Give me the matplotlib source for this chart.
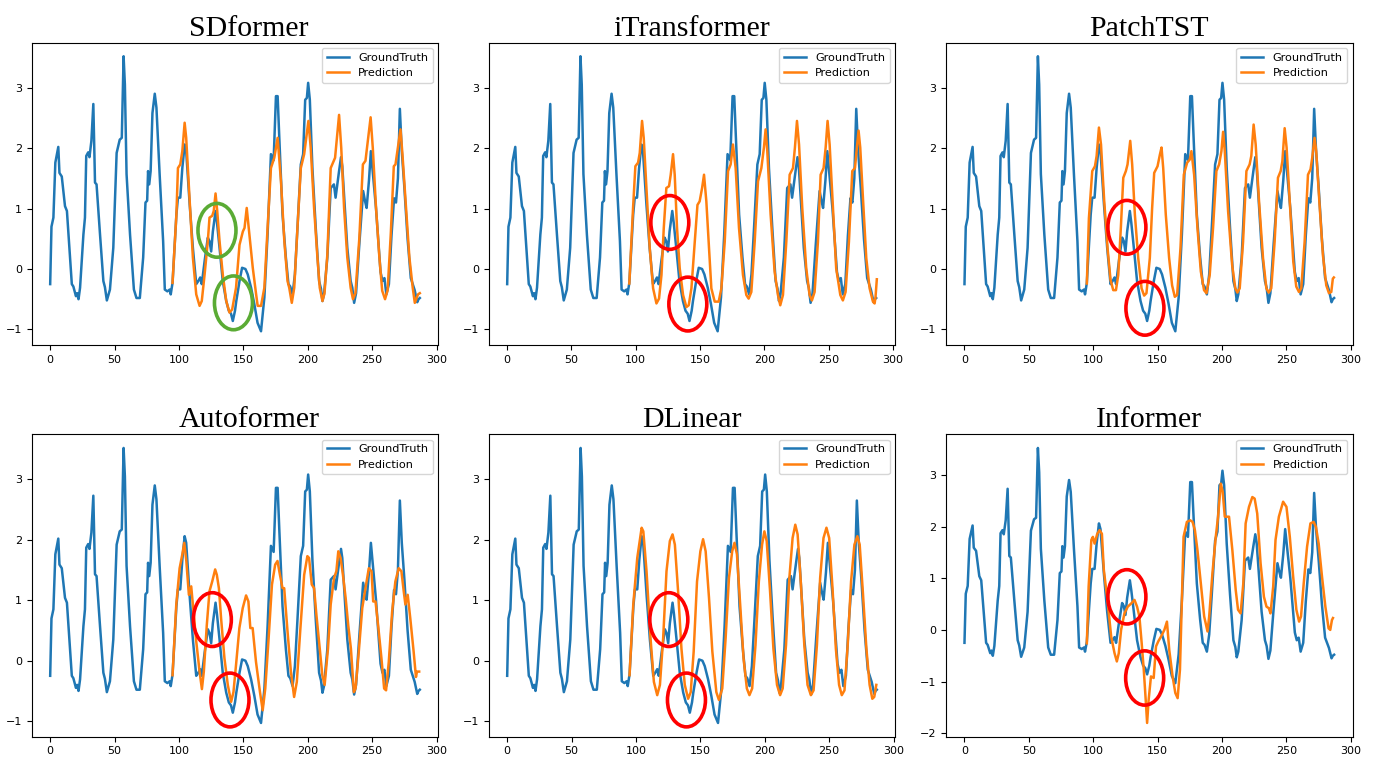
import matplotlib
matplotlib.use("Agg")
import matplotlib.pyplot as plt
from matplotlib.patches import Ellipse
import numpy as np

ground_truth = [
    (0, -0.25), (1, 0.70), (2.5, 0.85), (4, 1.76), (5, 1.87), (6.3, 2.02), (7.2, 1.59), (9, 1.53),
    (11.5, 1.04), (13, 0.96), (16.8, -0.25), (18, -0.29), (20, -0.45), (21, -0.40), (22, -0.50),
    (23.2, -0.31), (25.8, 0.57), (27, 0.85), (28, 1.87), (29.5, 1.93), (30.5, 1.85), (32, 2.12),
    (33.5, 2.73), (34.8, 1.43), (36, 1.40), (38.7, 0.57), (41.3, -0.20), (42.5, -0.30), (44, -0.52),
    (46.4, -0.34), (49, 0.35), (51.6, 1.92), (54, 2.14), (55.6, 2.17), (57, 3.52), (58, 3.05),
    (59.3, 1.57), (62, 0.57), (65, -0.34), (67, -0.48), (69.6, -0.48), (72.2, 0.19), (74, 1.10),
    (75.3, 1.13), (76, 1.62), (76.9, 1.40), (78, 1.62), (79.4, 2.58), (81.2, 2.90), (82.5, 2.67),
    (85, 1.56), (87.7, 0.46), (89, -0.34), (91, -0.37), (92.8, -0.34), (93.6, -0.42), (95, -0.23),
    (98, 0.90), (99.2, 1.18), (101, 1.18), (102.6, 1.67), (104.4, 2.06), (105.6, 1.95), (108.3, 1.07),
    (110.8, 0.35), (113.4, -0.25), (115, -0.20), (116.5, -0.14), (117.7, -0.25), (119.9, 0.13),
    (122.4, 0.52), (123.7, 0.46), (125, 0.29), (126.3, 0.62), (128.4, 0.96), (129.5, 0.77),
    (131.5, 0.35), (134, -0.20), (136.7, -0.53), (138.7, -0.69), (140.4, -0.74), (141.8, -0.86),
    (143.5, -0.69), (144.5, -0.53), (147, -0.20), (149, 0.02), (151.6, 0.00), (153.4, -0.09),
    (156, -0.31), (158.5, -0.58), (161, -0.89), (163.7, -1.03), (166.3, -0.47), (168.8, 0.57),
    (171.4, 1.90), (173.5, 1.80), (175.3, 2.86), (176.6, 2.86), (177.9, 2.17), (180.4, 0.90),
    (183, 0.19), (185, -0.25), (186.4, -0.29), (188.2, -0.42), (190, -0.09), (192, 0.68),
    (194.6, 1.73), (196.4, 1.90), (198, 2.80), (199.3, 2.83), (200.3, 3.08), (201.6, 2.80),
    (203.6, 1.67), (206.2, 0.68), (208.8, -0.20), (210.3, -0.33), (211.4, -0.53), (212.6, -0.42),
    (215.2, 0.19), (217.8, 1.34), (220.3, 1.40), (221.6, 1.18), (224.3, 1.62), (225.8, 1.85),
    (226.8, 1.70), (230.7, 0.35), (233.3, -0.20), (234.6, -0.31), (236, -0.56), (237.5, -0.40),
    (240, 0.40), (243, 1.29), (244.4, 1.13), (245.7, 1.01), (247.5, 1.46), (249, 1.95), (250.5, 1.60),
    (253, 1.00), (256.5, -0.05), (258, -0.20), (259.5, -0.15), (261, -0.42), (263, -0.25),
    (265, 0.55), (267, 1.17), (268.5, 1.10), (270, 1.50), (271.5, 2.65), (273, 1.95), (275, 1.35),
    (277.5, 0.50), (280, -0.15), (281.5, -0.25), (283, -0.35), (285, -0.55), (286, -0.50), (287, -0.48),
]

sdformer_pred = [
    (95, -0.23), (98, 0.90), (99.2, 1.67), (101, 1.73), (102.6, 1.95), (104.4, 2.42), (105.6, 2.17),
    (108.3, 1.13), (110.8, 0.19), (113.4, -0.42), (116, -0.61), (117.7, -0.53), (119.9, -0.09),
    (122.4, 0.46), (123.7, 0.85), (125.8, 0.88), (127, 0.96), (128.4, 1.25), (129.7, 0.96),
    (131.5, 0.46), (134, -0.09), (136.7, -0.53), (139.2, -0.72), (141.3, -0.67), (144.3, -0.31),
    (147, 0.40), (149.6, 0.62), (150.9, 0.68), (152.6, 1.01), (155.2, 0.46), (157.3, 0.02),
    (159.9, -0.42), (161.1, -0.61), (163.7, -0.61), (166.3, -0.31), (168.8, 0.68), (171.4, 1.67),
    (174, 1.84), (176.6, 2.17), (179.2, 1.45), (181.8, 0.46), (184.3, -0.20), (185.6, -0.31),
    (187.6, -0.56), (189.5, -0.31), (192, 0.68), (194.6, 1.67), (197.2, 1.90), (200.5, 2.45),
    (202.3, 2.00), (204.9, 1.01), (207.5, 0.19), (209.3, -0.31), (211.4, -0.53), (213, -0.40),
    (215.2, 0.24), (217.8, 1.67), (221.2, 1.84), (224.3, 2.55), (226, 2.00), (228.2, 1.01),
    (230.7, 0.19), (233.3, -0.31), (235.1, -0.50), (237, -0.40), (240, 0.50), (242.8, 1.73),
    (244.8, 1.79), (248.8, 2.51), (250.5, 2.00), (253, 1.01), (255.6, 0.19), (257.8, -0.36),
    (260, -0.50), (262, -0.35), (264.5, 0.60), (266.8, 1.70), (268.1, 1.73), (272, 2.31),
    (273.5, 1.90), (276.3, 1.01), (278.9, 0.19), (281.5, -0.31), (283.1, -0.56), (285.6, -0.42),
    (287, -0.40),
]

itransformer_pred = [
    (95, -0.24), (97.9, 1.01), (99.7, 1.70), (101.8, 1.76), (103.1, 1.92), (104.9, 2.45), (106.2, 2.17),
    (108.3, 1.34), (110.9, 0.34), (113.5, -0.32), (116.1, -0.57), (118.1, -0.49), (120, -0.10),
    (121.8, 0.68), (123.8, 1.34), (125.9, 1.37), (127.2, 1.56), (129, 1.90), (130.3, 1.56),
    (132.1, 0.68), (134.2, 0.01), (136.8, -0.43), (139.4, -0.63), (141.2, -0.60), (143.3, -0.32),
    (145.9, 0.45), (148, 1.06), (149.7, 1.12), (151.6, 1.34), (153.1, 1.56), (154.9, 1.12),
    (157, 0.34), (158.8, -0.32), (161.4, -0.54), (164.5, -0.54), (166.6, -0.32), (169.2, 0.45),
    (171.8, 1.62), (173.8, 1.73), (175.6, 2.06), (177.7, 1.67), (180.3, 0.68), (183.4, -0.10),
    (186, -0.43), (187.8, -0.49), (189.9, -0.38), (192.5, 0.45), (195.1, 1.45), (197.7, 1.67),
    (199.7, 2.01), (201, 2.31), (202.3, 1.95), (204.9, 0.90), (208, -0.04), (210.6, -0.43),
    (212.4, -0.60), (214.5, -0.43), (217.1, 0.45), (219.7, 1.56), (222.3, 1.67), (223.8, 2.01),
    (225.4, 2.45), (227, 2.06), (229.5, 1.01), (232.6, 0.01), (235.2, -0.43), (237, -0.52),
    (239.1, -0.38), (241.7, 0.45), (243.8, 1.56), (246.1, 1.67), (247.7, 2.01), (249.2, 2.45),
    (250.8, 2.06), (253.4, 1.01), (255.9, 0.01), (259.1, -0.43), (261.1, -0.52), (263.2, -0.38),
    (265.8, 0.45), (268.4, 1.62), (270.5, 1.67), (272, 2.01), (273.3, 2.29), (274.6, 2.01),
    (276.7, 1.18), (279.3, 0.18), (281.9, -0.32), (284.5, -0.54), (285.8, -0.57), (286.5, -0.46),
    (287.5, -0.17),
]

patchtst_pred = [
    (95, -0.24), (96.6, 0.84), (99.2, 1.62), (101.3, 1.70), (102.6, 1.87), (104.4, 2.34), (106, 2.06),
    (108.5, 1.12), (111.1, 0.34), (113.4, -0.18), (115.5, -0.35), (117.6, -0.35), (119.4, -0.10),
    (121.4, 0.68), (123.3, 1.51), (125.3, 1.62), (126.6, 1.73), (128.7, 2.12), (130.2, 1.73),
    (132.3, 0.90), (134.9, 0.18), (137.5, -0.32), (139.5, -0.44), (141.3, -0.40), (143.9, 0.18),
    (145.7, 1.01), (147.3, 1.59), (149.9, 1.70), (151.7, 1.89), (153, 2.01), (154.3, 1.67),
    (156.3, 0.90), (158.9, 0.18), (161.2, -0.27), (163.3, -0.46), (165.1, -0.43), (167.7, 0.34),
    (170.3, 1.56), (172.9, 1.76), (174.9, 1.81), (176.2, 1.95), (178.3, 1.56), (180.9, 0.68),
    (183.5, -0.04), (186, -0.35), (187.9, -0.40), (190.4, -0.10), (193, 0.68), (195.6, 1.62),
    (197.7, 1.73), (199.5, 1.95), (200.8, 2.27), (202.1, 1.95), (204.7, 0.95), (207.8, 0.07),
    (210.3, -0.32), (211.9, -0.39), (213.7, -0.32), (216.3, 0.45), (218.9, 1.62), (221.4, 1.73),
    (222.7, 1.87), (224.5, 2.39), (226.1, 2.06), (228.7, 1.12), (231.8, 0.18), (234.4, -0.32),
    (236.2, -0.39), (238.2, -0.32), (240.8, 0.45), (243.4, 1.51), (245.5, 1.62), (246.8, 1.78),
    (248.6, 2.33), (250.1, 2.01), (252.7, 1.06), (255.3, 0.12), (257.6, -0.29), (259.7, -0.38),
    (261.5, -0.32), (264.1, 0.45), (266.7, 1.56), (268.7, 1.65), (270, 1.84), (271.8, 2.17),
    (273.1, 1.95), (275.7, 1.06), (278.3, 0.23), (280.9, -0.27), (283, -0.40), (284.8, -0.38),
    (286, -0.16), (286.8, -0.14),
]

autoformer_pred = [
    (95, -0.24), (97.9, 0.93), (100.5, 1.53), (102.6, 1.76), (104.1, 1.95), (105.7, 1.65), (107.7, 1.09),
    (109.5, 1.23), (111.3, 0.81), (113.4, 0.32), (116, -0.18), (117.8, -0.47), (119.3, -0.18),
    (121.6, 0.59), (123.7, 1.15), (125.8, 1.31), (128.1, 1.51), (129.4, 1.42), (131, 1.20),
    (132.7, 0.70), (135.3, 0.04), (137.9, -0.40), (140.5, -0.68), (142.3, -0.52), (144.3, -0.07),
    (146.9, 0.54), (149.5, 0.87), (152.1, 1.08), (153.9, 0.98), (155.4, 0.54), (157.2, 0.54),
    (159.8, -0.02), (162.9, -0.52), (165, -0.82), (167, -0.46), (169.6, 0.37), (172.2, 1.26),
    (174.7, 1.59), (176.5, 1.65), (178.4, 1.42), (180.4, 1.20), (181.7, 1.20), (184.3, 0.48),
    (186.9, -0.18), (189.4, -0.60), (191.5, -0.35), (194.1, 0.48), (197.2, 1.42), (199.7, 1.73),
    (201, 1.70), (203.1, 1.26), (204.9, 1.20), (206.7, 0.76), (209.3, 0.20), (211.3, -0.24),
    (213.1, -0.40), (215.7, 0.20), (217.8, 0.93), (220.4, 1.37), (222.2, 1.48), (223.7, 1.81),
    (225.5, 1.70), (227.3, 1.42), (229.4, 1.04), (231.4, 0.59), (233.5, 0.20), (235.8, -0.52),
    (237.1, -0.46), (239.2, 0.04), (242.3, 0.87), (244.8, 1.20), (247.4, 1.53), (249.5, 1.48),
    (250.8, 0.98), (252.6, 0.98), (254.6, 0.59), (257.2, 0.04), (259.3, -0.46), (260.8, -0.49),
    (262.9, -0.02), (265.5, 0.81), (268, 1.31), (270.6, 1.53), (272.7, 1.48), (274.5, 1.15),
    (275.8, 0.93), (277.6, 1.09), (279.6, 0.70), (282.2, 0.15), (284, -0.27), (284.8, -0.18),
    (286.5, -0.18),
]

dlinear_pred = [
    (95, -0.24), (97.9, 0.93), (101, 1.70), (104.4, 2.20), (105.7, 2.14), (108.2, 1.48), (111.3, 0.37),
    (113.9, -0.35), (116.5, -0.57), (118.6, -0.40), (121.1, 0.37), (123.7, 1.48), (126.3, 1.98),
    (128.4, 2.09), (130.2, 1.92), (132.7, 1.15), (135.3, 0.20), (137.9, -0.40), (140.5, -0.63),
    (142.5, -0.52), (144.8, 0.15), (147.4, 1.31), (150, 1.81), (152.1, 2.01), (154.1, 1.81),
    (156.7, 1.04), (159.3, 0.15), (162.4, -0.52), (164.4, -0.65), (167, -0.46), (169.6, 0.37),
    (172.2, 1.37), (174.7, 1.81), (176.5, 1.95), (178.4, 1.76), (180.9, 0.93), (183.5, 0.04),
    (186.1, -0.46), (188.1, -0.57), (190.2, -0.46), (192.8, 0.26), (195.4, 1.31), (197.9, 1.92),
    (199.7, 2.14), (201.5, 1.98), (204.1, 1.15), (206.7, 0.20), (209.5, -0.40), (211.9, -0.57),
    (213.9, -0.46), (216.5, 0.26), (219.1, 1.37), (221.6, 2.03), (223.7, 2.25), (225.5, 2.09),
    (228.1, 1.26), (230.7, 0.26), (233.2, -0.40), (235.8, -0.57), (237.9, -0.49), (240.5, 0.26),
    (243, 1.37), (245.6, 2.03), (247.9, 2.20), (250, 2.03), (252.6, 1.20), (255.2, 0.20),
    (257.7, -0.40), (259.8, -0.57), (261.9, -0.49), (264.4, 0.26), (267, 1.31), (269.6, 1.92),
    (271.9, 2.06), (273.7, 1.92), (276.3, 1.09), (278.9, 0.20), (281.4, -0.40), (283.5, -0.63),
    (285, -0.60), (286.6, -0.40),
]

informer_pred = [
    (95, -0.26), (96.4, 0.84), (98.5, 1.74), (99.7, 1.80), (101, 1.67), (103.1, 1.86), (104.9, 1.93),
    (106.7, 1.86), (108.2, 1.16), (111.3, 0.51), (113.9, -0.13), (116.5, -0.45), (118.3, -0.61),
    (119.8, -0.45), (121.6, 0.00), (124.2, 0.32), (126.8, 0.45), (129.4, 0.51), (132, 0.58),
    (134, 0.45), (135.8, 0.26), (137.6, -0.26), (139.2, -0.77), (140.7, -1.35), (141.8, -1.80),
    (143, -1.35), (144.8, -0.90), (146.9, -0.93), (148.7, -0.32), (150.5, -0.22), (152.6, -0.13),
    (155.2, 0.00), (157.2, 0.16), (159, -0.39), (161.6, -0.90), (163.7, -1.22), (165.5, -1.32),
    (167.3, -0.77), (168.8, 0.58), (170.1, 1.80), (172.7, 2.09), (175.3, 2.12), (177.1, 2.09),
    (178.9, 1.93), (180.9, 1.54), (183.5, 0.90), (186.1, 0.26), (188.7, -0.03), (190, 0.26),
    (192.5, 1.09), (195.1, 1.80), (196.9, 2.19), (199, 2.83), (200.5, 2.67), (202.1, 2.19),
    (205.4, 2.19), (208, 1.54), (210.6, 0.77), (212.4, 0.39), (214.4, 0.32), (216.5, 0.90),
    (218.3, 2.06), (220.9, 2.38), (223.5, 2.57), (225.3, 2.54), (227.3, 2.25), (229.9, 1.29),
    (232.5, 0.64), (234.5, 0.45), (236.3, 0.42), (237.6, 0.32), (239.7, 0.84), (241.5, 1.74),
    (244.1, 2.19), (247.4, 2.48), (250, 2.38), (252.6, 1.80), (255.2, 1.03), (257.7, 0.39),
    (259.8, 0.16), (261.3, 0.26), (263.4, 0.90), (266, 1.61), (268.6, 2.06), (271.1, 2.09),
    (272.9, 1.99), (275, 1.67), (277.6, 1.03), (280.2, 0.45), (282.7, 0.03), (284, 0.00),
    (285.3, 0.19), (286.1, 0.23),
]

titles = ["SDformer", "iTransformer", "PatchTST", "Autoformer", "DLinear", "Informer"]
predictions = [sdformer_pred, itransformer_pred, patchtst_pred, autoformer_pred, dlinear_pred, informer_pred]

# highlight ellipses drawn on top of each panel (centre in data units)
marks = [
    [(129.5, 0.64), (142.3, -0.56)],
    [(126.5, 0.77), (140.5, -0.58)],
    [(126.1, 0.69), (140.1, -0.65)],
    [(125.9, 0.68), (139.6, -0.65)],
    [(125.5, 0.68), (139.2, -0.65)],
    [(126.1, 0.64), (139.9, -0.93)],
]
mark_height = [0.89, 0.89, 0.89, 0.89, 0.89, 1.05]

gt = np.array(ground_truth)

fig = plt.figure(figsize=(13.74, 7.57), dpi=100)
# axes boxes measured in pixels on the reference
lefts = [31.7 / 1374, 488.7 / 1374, 946 / 1374]
bottoms = [1 - 345 / 757, 1 - 736.7 / 757]
w, h = 406.6 / 1374, 302.5 / 757
title_x = [0.535, 0.5, 0.5]  # left column titles sit a bit right of centre

for i, name in enumerate(titles):
    ax = fig.add_axes([lefts[i % 3], bottoms[i // 3], w, h])
    pred = np.array(predictions[i])
    ax.plot(gt[:, 0], gt[:, 1], color="#1f77b4", lw=1.8, label="GroundTruth")
    ax.plot(pred[:, 0], pred[:, 1], color="#ff7f0e", lw=1.8, label="Prediction")
    ax.set_title(name, fontsize=21.5, family="Liberation Serif", pad=5, x=title_x[i % 3])
    ax.tick_params(labelsize=8)
    ax.set_xticks([0, 50, 100, 150, 200, 250, 300])
    ax.legend(loc="upper right", fontsize=8.1)

    colour = "#5aab34" if i == 0 else "#ff0000"
    for c in marks[i]:
        ax.add_patch(Ellipse(c, 29.5, mark_height[i], fill=False, edgecolor=colour, lw=2.6, zorder=5))

fig.savefig("out.png", dpi=100)
